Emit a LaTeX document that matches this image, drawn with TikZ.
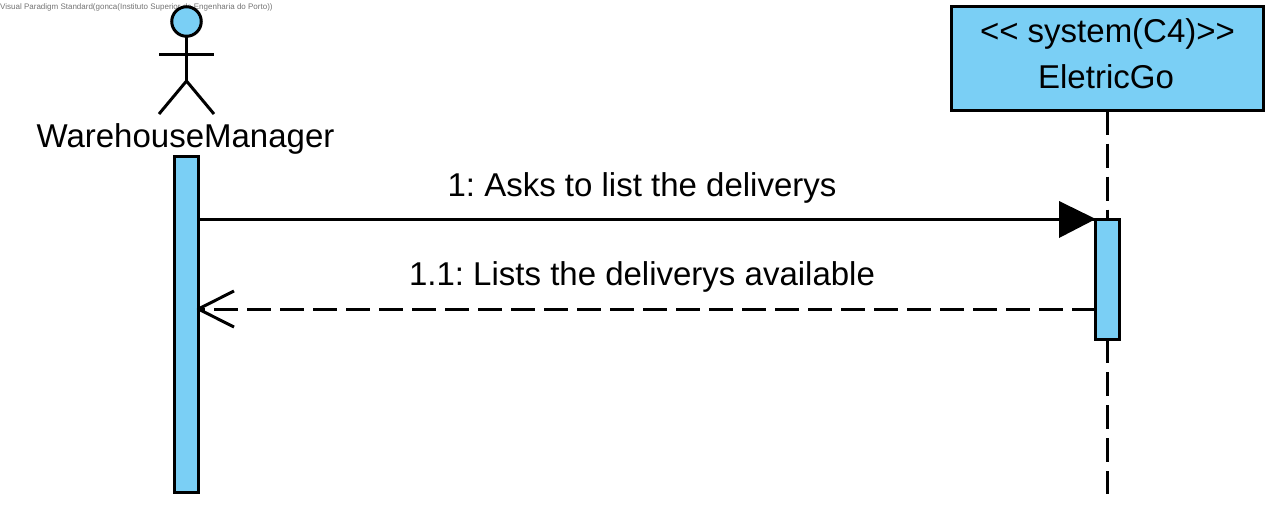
\documentclass[tikz,border=0pt]{standalone}
\usepackage{fontspec}
\setmainfont{Liberation Sans}
\usetikzlibrary{arrows.meta}
\definecolor{vpblue}{HTML}{7ACFF5}
\frenchspacing
\tikzset{
  x=1pt,y=-1pt,
  ln/.style={line width=3pt,black},
  act/.style={draw=black,line width=3pt,fill=vpblue,rectangle,minimum width=23.5pt,inner sep=0pt,outer sep=0pt,anchor=north},
  lbl/.style={font=\fontsize{33}{33}\selectfont,inner sep=0pt,anchor=base},
  dsh/.style={ln,dash pattern=on 24pt off 9pt},
}
\begin{document}
\begin{tikzpicture}
\useasboundingbox (0,0) rectangle (1278,507);
\node[anchor=west,inner sep=0pt,text=black!55,font=\fontsize{8}{9}\selectfont] (wm) at (0,7) {Visual Paradigm Standard(gonca(Instituto Superior de Engenharia do Porto))};
% actor
\node[circle,draw=black,line width=3pt,fill=vpblue,minimum size=29.5pt,inner sep=0pt,outer sep=0pt] (head) at (186.5,21.5) {};
\coordinate (hip) at (186.5,81);
\coordinate (armL) at (159,54); \coordinate (armR) at (214,54);
\coordinate (legL) at (159,114); \coordinate (legR) at (214,114);
\draw[ln] (head.south) -- (hip);
\draw[ln] (armL) -- (armR);
\draw[ln] (legL) -- (hip) -- (legR);
\node[lbl] (mgr) at (185.5,147) {WarehouseManager};
\node[act,minimum height=335.5pt] (a1) at (186.5,156.5) {};
% system
\node[draw=black,line width=3pt,fill=vpblue,rectangle,minimum width=312pt,minimum height=104pt,inner sep=0pt,outer sep=0pt,anchor=north] (sys) at (1107.5,6.5) {};
\node[lbl] (s1) at (1107.5,42) {<{}< system(C4)>{}>};
\node[lbl] (s2) at (1106,88) {EletricGo};
\coordinate (lifeEnd) at (1107.5,494);
\node[act,minimum height=120pt] (a2) at (1107.5,219) {};
\draw[dsh] (sys.south) -- (a2.north);
\draw[dsh] (a2.south) -- (lifeEnd);
% messages
\coordinate (m1s) at (a1.east|-a2.north);
\coordinate (m1e) at (a2.north west);
\draw[ln] (m1s) -- (m1e);
\coordinate (t1) at (1059,201); \coordinate (t2) at (1059,238);
\fill[black] (m1e) -- (t1) -- (t2) -- cycle;
\node[lbl] (m1) at (642,196) {1: Asks to list the deliverys};
\coordinate (m2s) at (a2.west|-0,309);
\coordinate (m2e) at (a1.east|-0,309);
\draw[dsh] (m2s) -- (m2e);
\coordinate (o1) at (234,291); \coordinate (o2) at (234,327);
\draw[ln,line join=round] (o1) -- (m2e) -- (o2);
\node[lbl] (m2) at (642,285) {1.1: Lists the deliverys available};
\end{tikzpicture}
\end{document}
